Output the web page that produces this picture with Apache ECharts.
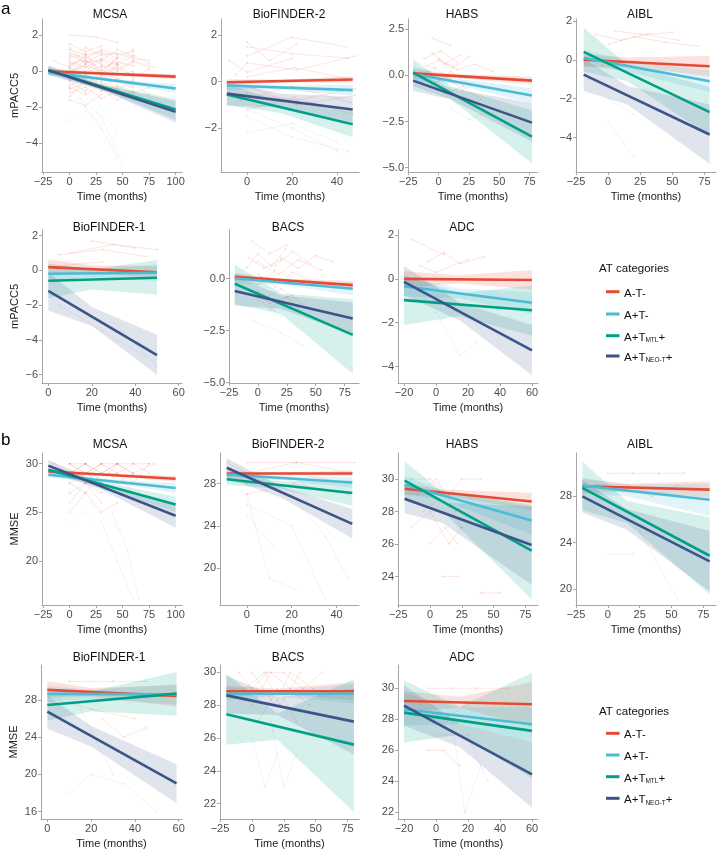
<!DOCTYPE html>
<html><head><meta charset="utf-8">
<script src="https://cdn.jsdelivr.net/npm/echarts@6.0.0/dist/echarts.min.js"></script>
<style>html,body{margin:0;padding:0;background:#fff}#c{width:717px;height:851px}</style>
</head><body><div id="c"></div>
<script>
// ---------- categories ----------
const groups = ['A-T-', 'A+T-', 'A+TMTL+', 'A+TNEO-T+'];
const cohorts = ['MCSA', 'BioFINDER-2', 'HABS', 'AIBL', 'BioFINDER-1', 'BACS', 'ADC'];
const outcomes = ['mPACC5', 'MMSE'];

// ---------- tick labels ----------
const xt_m25_100 = [-25, 0, 25, 50, 75, 100];
const xt_0_40 = [0, 20, 40];
const xt_m25_75 = [-25, 0, 25, 50, 75];
const xt_0_60 = [0, 20, 40, 60];
const xt_m20_60 = [-20, 0, 20, 40, 60];
const yt_pacc_MCSA = [-4, -2, 0, 2];
const yt_pacc_BF2 = [-2, 0, 2];
const yt_pacc_HABS = [-5, -2.5, 0, 2.5];
const yt_pacc_AIBL = [-4, -2, 0, 2];
const yt_pacc_BF1 = [-6, -4, -2, 0, 2];
const yt_pacc_BACS = [-5, -2.5, 0];
const yt_pacc_ADC = [-4, -2, 0, 2];
const yt_mmse_MCSA = [20, 25, 30];
const yt_mmse_BF2 = [20, 24, 28];
const yt_mmse_HABS = [24, 26, 28, 30];
const yt_mmse_AIBL = [20, 24, 28];
const yt_mmse_BF1 = [16, 20, 24, 28];
const yt_mmse_BACS = [22, 24, 26, 28, 30];
const yt_mmse_ADC = [22, 24, 26, 28, 30];

// ---------- fitted trajectories (time: start, mid, end; fit: start/end per group; lo/hi: 95% band at start/mid/end) ----------
// mPACC5
const pacc_MCSA_time = [-20, 30, 100];
const pacc_MCSA_fit = [[0.0, -0.30], [-0.05, -0.96], [0.05, -2.13], [0.05, -2.26]];
const pacc_MCSA_lo = [[-0.15, -0.19, -0.45], [-0.25, -0.50, -1.20], [-0.20, -1.00, -2.70], [-0.20, -1.05, -2.85]];
const pacc_MCSA_hi = [[0.15, -0.06, -0.15], [0.15, -0.36, -0.72], [0.30, -0.72, -1.55], [0.30, -0.77, -1.65]];

const pacc_BF2_time = [-9, 15, 47];
const pacc_BF2_fit = [[-0.03, 0.09], [-0.17, -0.37], [-0.56, -1.84], [-0.52, -1.20]];
const pacc_BF2_lo = [[-0.15, -0.05, -0.05], [-0.35, -0.35, -0.60], [-1.00, -1.35, -2.40], [-1.05, -1.10, -1.75]];
const pacc_BF2_hi = [[0.10, 0.09, 0.23], [0.00, -0.17, -0.14], [-0.10, -0.87, -1.28], [0.00, -0.52, -0.65]];

const pacc_HABS_time = [-21, 10, 77];
const pacc_HABS_fit = [[0.10, -0.29], [0.07, -1.10], [0.14, -3.32], [-0.29, -2.56]];
const pacc_HABS_lo = [[-0.15, -0.12, -0.50], [-0.35, -0.45, -1.50], [-0.60, -1.30, -4.76], [-0.85, -1.30, -3.60]];
const pacc_HABS_hi = [[0.35, 0.08, -0.08], [0.50, -0.15, -0.70], [0.85, -0.60, -1.90], [0.25, -0.72, -1.50]];

const pacc_AIBL_time = [-19, 15, 79];
const pacc_AIBL_fit = [[0.0, -0.33], [0.10, -1.10], [0.41, -2.69], [-0.76, -3.84]];
const pacc_AIBL_lo = [[-0.35, -0.35, -0.85], [-0.30, -0.60, -1.65], [-0.60, -1.10, -3.90], [-1.60, -2.30, -5.35]];
const pacc_AIBL_hi = [[0.30, 0.12, 0.20], [0.50, -0.05, -0.55], [1.65, -0.25, -1.40], [0.05, -1.35, -2.30]];

const pacc_BF1_time = [0, 20, 50];
const pacc_BF1_fit = [[0.19, -0.10], [-0.19, -0.13], [-0.59, -0.42], [-1.17, -4.88]];
const pacc_BF1_lo = [[-0.25, -0.15, -0.45], [-0.60, -0.40, -0.60], [-1.60, -1.10, -1.40], [-2.30, -3.20, -6.00]];
const pacc_BF1_hi = [[0.65, 0.30, 0.25], [0.25, 0.06, 0.35], [0.40, 0.05, 0.60], [-0.10, -2.10, -3.70]];

const pacc_BACS_time = [-20, 20, 82];
const pacc_BACS_fit = [[0.08, -0.32], [0.01, -0.49], [-0.25, -2.71], [-0.60, -1.92]];
const pacc_BACS_lo = [[-0.10, -0.15, -0.50], [-0.25, -0.29, -0.80], [-1.24, -1.70, -4.57], [-1.30, -1.45, -2.70]];
const pacc_BACS_hi = [[0.25, 0.00, -0.12], [0.25, -0.09, -0.20], [0.67, -0.72, -1.00], [0.10, -0.80, -1.15]];

const pacc_ADC_time = [-20, 15, 60];
const pacc_ADC_fit = [[0.0, -0.05], [-0.34, -1.09], [-0.97, -1.43], [-0.14, -3.26]];
const pacc_ADC_lo = [[-0.40, -0.20, -0.50], [-0.80, -0.90, -1.60], [-2.10, -1.70, -2.60], [-0.75, -1.90, -4.40]];
const pacc_ADC_hi = [[0.35, 0.16, 0.40], [0.10, -0.45, -0.60], [0.15, -0.65, -0.30], [0.60, -1.10, -2.10]];

// MMSE
const mmse_MCSA_time = [-20, 30, 100];
const mmse_MCSA_fit = [[29.20, 28.45], [28.87, 27.50], [29.38, 25.80], [29.80, 24.64]];
const mmse_MCSA_lo = [[29.00, 28.80, 28.15], [28.55, 28.15, 27.00], [28.90, 27.65, 25.00], [29.20, 27.35, 23.40]];
const mmse_MCSA_hi = [[29.45, 28.98, 28.75], [29.20, 28.45, 28.00], [29.85, 28.13, 26.60], [30.40, 27.95, 25.90]];

const mmse_BF2_time = [-9, 15, 47];
const mmse_BF2_fit = [[28.96, 28.96], [28.86, 28.10], [28.41, 27.11], [29.50, 24.18]];
const mmse_BF2_lo = [[28.75, 28.85, 28.70], [28.50, 28.35, 27.60], [27.90, 27.50, 25.90], [28.50, 26.70, 22.80]];
const mmse_BF2_hi = [[29.20, 29.07, 29.25], [29.20, 28.70, 28.60], [28.90, 28.20, 28.30], [30.40, 27.75, 25.60]];

const mmse_HABS_time = [-20, 10, 80];
const mmse_HABS_fit = [[29.40, 28.62], [29.65, 27.45], [29.90, 25.60], [28.78, 25.94]];
const mmse_HABS_lo = [[29.00, 29.00, 28.10], [29.10, 28.70, 26.60], [28.70, 28.00, 22.60], [27.90, 27.30, 23.50]];
const mmse_HABS_hi = [[29.75, 29.35, 29.15], [30.20, 29.30, 28.30], [31.10, 29.20, 28.40], [29.70, 28.55, 28.30]];

const mmse_AIBL_time = [-20, 15, 80];
const mmse_AIBL_fit = [[28.87, 28.58], [28.93, 27.71], [28.73, 22.86], [28.00, 22.37]];
const mmse_AIBL_lo = [[28.30, 28.40, 27.90], [28.20, 28.00, 26.30], [26.80, 25.70, 19.50], [26.60, 25.10, 19.80]];
const mmse_AIBL_hi = [[29.50, 29.10, 29.30], [29.60, 29.00, 29.10], [31.00, 27.60, 26.20], [29.40, 26.90, 25.00]];

const mmse_BF1_time = [0, 20, 59];
const mmse_BF1_fit = [[29.08, 28.43], [28.65, 28.60], [27.46, 28.68], [26.74, 19.04]];
const mmse_BF1_lo = [[28.20, 28.40, 27.30], [27.80, 28.10, 27.50], [25.80, 26.80, 26.30], [24.90, 23.00, 16.90]];
const mmse_BF1_hi = [[30.00, 29.30, 29.60], [29.50, 29.10, 29.70], [29.20, 28.90, 31.00], [28.50, 25.20, 21.10]];

const mmse_BACS_time = [-20, 20, 80];
const mmse_BACS_fit = [[28.85, 28.85], [28.70, 28.70], [27.45, 25.60], [28.60, 27.00]];
const mmse_BACS_lo = [[28.50, 28.70, 28.30], [28.30, 28.55, 28.10], [25.60, 25.90, 21.50], [27.50, 27.40, 25.00]];
const mmse_BACS_hi = [[29.20, 29.00, 29.40], [29.10, 28.85, 29.30], [29.90, 27.50, 29.60], [29.80, 28.50, 29.00]];

const mmse_ADC_time = [-20, 15, 60];
const mmse_ADC_fit = [[29.18, 28.97], [28.65, 27.68], [28.43, 27.25], [28.88, 24.45]];
const mmse_ADC_lo = [[28.50, 28.75, 27.50], [27.60, 27.70, 26.50], [26.50, 27.00, 24.20], [27.60, 26.20, 22.30]];
const mmse_ADC_hi = [[29.80, 29.45, 30.40], [29.70, 28.75, 28.80], [30.50, 28.80, 31.00], [30.20, 27.70, 26.50]];

// ---------- individual trajectories: [group, t, v, t, v, ...] ----------
const pacc_MCSA_subj = [
 [0,0,0.4,15,0.6,30,0.2,45,0.5,60,0.3],[0,0,1.2,15,0.9,30,1.1,45,0.7],[0,0,-0.5,15,-0.2,30,-0.8,45,-0.4,60,-0.9],
 [0,0,-1.2,15,-0.9,30,-1.5,45,-1.1],[0,0,0.8,15,1.3,30,0.9,45,1.0,60,0.7,75,0.6],[0,0,0.1,15,-0.1,30,0.3,45,-0.2,60,0.0],
 [0,0,-0.8,15,-0.4,30,-0.6,45,-1.0,60,-0.7,75,-1.3],[0,0,1.5,15,1.1,30,1.4],[0,0,-1.6,15,-1.9,30,-1.3],
 [0,0,0.6,15,0.2,30,0.7,45,0.3,60,0.9,75,0.4],[0,0,-0.2,15,0.4,30,-0.1,45,0.2,60,-0.4],[0,0,0.9,15,0.5,30,0.6,45,1.2,60,0.8],
 [0,0,-0.9,15,-1.3,30,-0.7,45,-1.2,60,-1.5],[0,0,0.3,15,0.8,30,0.4,45,0.0,60,0.5,75,0.2],[0,0,-0.4,15,-0.7,30,-0.2,45,-0.6],
 [0,0,1.0,15,0.7,30,1.2,45,0.9,60,1.1],[0,0,-1.0,15,-0.6,30,-1.1,45,-0.8,60,-1.2,75,-0.9],[0,0,0.2,15,-0.3,30,0.1,45,-0.5,60,-0.1],
 [0,0,2.0,25,1.9,45,1.6],[0,0,0.5,15,0.0,30,0.6,45,0.1,60,0.6,80,0.2],[0,0,-0.1,15,0.6,30,0.0,45,0.7],
 [0,0,1.3,15,0.4,30,1.0,45,0.4,60,1.2],[0,0,-0.6,15,-1.1,30,-0.3,45,-0.9,60,-0.5],[0,0,0.7,15,1.0,30,-0.2,45,0.8],
 [0,0,-1.4,15,-0.5,30,-1.0,45,-1.6,60,-1.1],[0,0,0.0,15,0.3,30,-0.5,45,0.4,60,-0.3,75,0.1],[0,-15,0.6,0,0.2,15,0.9],
 [1,0,-0.5,15,-1.2,30,-2.0,45,-3.5],[3,0,-1.0,15,-2.0,30,-3.2,45,-4.8],[2,10,-1.5,30,-2.5,50,-5.2],[1,0,-2.8,15,-2.2,30,-2.9]
];
const pacc_BF2_subj = [
 [0,0,1.5,20,1.2,45,1.0],[0,-5,0.3,0,0.8,22,0.5,48,1.1],[0,0,-0.5,22,-0.8,48,-0.3],[0,0,1.7,10,0.9,22,1.6],
 [0,0,-1.2,21,-0.7,47,-1.4],[0,0,0.2,21,0.6,46,0.1],[0,-8,0.9,0,0.4,20,1.0],[0,0,-0.2,22,-1.0,48,-0.6],
 [0,0,1.1,20,1.9,44,1.5],[0,-3,-0.8,20,-0.2,46,-0.9],
 [3,0,-1.5,20,-2.4,45,-3.0],[3,-5,-1.0,20,-2.0,40,-3.0],[2,0,-2.2,20,-1.8,40,-2.6]
];
const pacc_HABS_subj = [
 [0,-10,0.5,0,0.8,12,0.4,25,1.0],[0,-5,1.2,5,0.6,18,1.1],[0,0,-0.3,10,0.2,25,-0.5],[0,-15,0.0,-3,0.4,10,-0.2],
 [0,0,0.9,15,0.3,30,0.6,45,0.2],[0,5,-1.0,20,-0.6,35,-1.3],[0,-5,2.0,10,1.6],[0,-12,0.9,2,1.3,15,0.7],
 [0,-8,-0.6,6,-0.1,20,-0.8],[3,10,-1.8,25,-2.4,40,-2.0]
];
const pacc_AIBL_subj = [
 [0,-10,1.3,10,1.0,30,1.3,55,1.0],[0,0,0.8,20,1.2,45,0.9,70,0.7],[0,-5,-0.3,15,-0.6],[0,5,1.5,25,1.3,50,1.4],
 [3,-15,-1.0,0,-2.0,20,-2.8],[3,0,-3.2,20,-5.0]
];
const pacc_BF1_subj = [
 [0,10,1.0,30,1.5,50,1.2],[0,0,0.2,25,0.5],[0,20,1.7,40,1.3],[0,5,0.9,25,1.2,45,0.8],
 [3,5,-2.0,25,-3.5,45,-5.0],[3,30,-3.0,50,-5.5]
];
const pacc_BACS_subj = [
 [0,-10,0.5,0,1.2,12,0.6,24,1.4],[0,0,0.2,15,-0.4,30,0.3,45,-0.1],[0,-5,1.8,10,1.2,25,1.6],[0,5,-1.0,20,-0.5,38,-1.2],
 [0,0,0.8,18,0.2,35,0.9,55,0.4],[0,10,-1.5,25,-0.9,40,-1.7],[0,-15,0.0,0,-0.3,15,0.4],[0,20,1.0,35,0.5,50,1.1,65,0.8],
 [0,0,-0.6,10,-1.2,30,-0.8],[0,15,0.6,30,1.3,45,0.7],[0,-8,1.0,5,0.5,20,0.9],
 [3,-5,-2.0,20,-2.6,38,-3.2],[3,0,-1.0,20,-1.8]
];
const pacc_ADC_subj = [
 [0,-5,0.8,5,1.2,15,0.7,30,1.0],[0,-10,0.6,0,0.3,20,0.9],[1,0,-2.0,15,-1.3,30,-2.5],[3,0,-1.5,15,-3.5,25,-2.9],[0,-15,1.8,5,1.1]
];
const mmse_MCSA_subj = [
 [0,0,30,15,29,30,30,45,29,60,30,75,30],[0,0,29,15,30,30,29,45,30,60,29],[0,0,30,15,30,30,28,45,30,60,30,75,29],
 [0,0,28,15,29,30,28,45,27],[0,0,29,15,28,30,30,45,28,60,29],[0,0,27,15,28,30,27,45,28],
 [0,0,30,15,29,30,30,45,30,60,28,75,30],[0,0,28,15,27,30,29,45,29,60,27],[0,0,26,15,28,30,26],
 [0,0,25,15,27,30,25,45,26],[0,-15,30,0,29,15,30],[0,15,30,30,29,45,30,60,29,80,30],
 [1,0,24,15,25,30,23],[3,30,24,45,20,60,16],[3,40,25,55,21,65,16],[1,0,27,20,26,35,24,50,23]
];
const mmse_BF2_subj = [
 [0,0,30,22,30,48,30],[0,-9,30,0,29,22,30,47,29],[0,0,28,21,29,46,28],[0,0,27,21,28,45,27],[0,-5,29,10,28,22,29],
 [3,0,27,10,19,22,18],[3,0,26,20,24,35,17],[3,20,27,35,23,45,19],[2,0,25,12,22]
];
const mmse_HABS_subj = [
 [0,-15,30,0,30,15,29,25,30,40,30],[0,-10,29,5,30,20,28,35,29],[0,-5,28,10,29,25,27],[0,-15,27,0,28,15,26,25,27],
 [0,0,26,12,27,22,26],[0,10,24,22,24],[0,40,23,55,23]
];
const mmse_AIBL_subj = [
 [0,0,30,20,30,40,30,60,30],[0,-10,29,15,29,35,28,55,29],[3,0,23,20,23],[3,25,25,55,19]
];
const mmse_BF1_subj = [
 [0,10,30,30,30,45,30],[0,5,28,20,27,40,26],[3,10,18,20,20,35,19,50,16],[3,15,27,30,20],[0,25,26,35,24,45,25]
];
const mmse_BACS_subj = [
 [0,-10,30,0,29,12,30,25,30,40,29,55,30],[0,-5,29,10,30,22,28,38,30],[0,0,28,15,30,30,29,45,28],
 [0,0,30,18,28,30,30,48,29],[0,5,27,20,29,35,27],[3,0,26,10,23,20,25],[3,15,27,25,23,35,25]
];
const mmse_ADC_subj = [
 [0,-5,30,10,30,25,30,45,30],[0,-10,29,5,28,20,29],[0,-5,26,5,26,15,25],[3,10,28,18,22,28,25],[3,0,27,20,27,32,24]
];

// ---------- styling / layout (not data) ----------
const groupColors = ['#E64B35', '#4DBBD5', '#00A087', '#3C5488'];
const subjOpacity = [0.2, 0.1, 0.1, 0.1];
const FONT = 'Liberation Sans, Arial, Helvetica, sans-serif';
const axisGray = '#a6a6a6';
const labelGray = '#4d4d4d';

const panels = [
 {c:0,o:0,time:pacc_MCSA_time,fit:pacc_MCSA_fit,lo:pacc_MCSA_lo,hi:pacc_MCSA_hi,subj:pacc_MCSA_subj,xt:xt_m25_100,yt:yt_pacc_MCSA,dec:0,
  L:42,R:182,T:19,B:172,xr:[-26,106],yr:[-5.6,2.9],tx:110,ty:15,yname:true},
 {c:1,o:0,time:pacc_BF2_time,fit:pacc_BF2_fit,lo:pacc_BF2_lo,hi:pacc_BF2_hi,subj:pacc_BF2_subj,xt:xt_0_40,yt:yt_pacc_BF2,dec:0,
  L:221,R:359,T:19,B:172,xr:[-11.6,49.8],yr:[-3.89,2.69],tx:289,ty:15},
 {c:2,o:0,time:pacc_HABS_time,fit:pacc_HABS_fit,lo:pacc_HABS_lo,hi:pacc_HABS_hi,subj:pacc_HABS_subj,xt:xt_m25_75,yt:yt_pacc_HABS,dec:1,
  L:408,R:538,T:19,B:172,xr:[-25.2,82],yr:[-5.23,3.04],tx:462,ty:15},
 {c:3,o:0,time:pacc_AIBL_time,fit:pacc_AIBL_fit,lo:pacc_AIBL_lo,hi:pacc_AIBL_hi,subj:pacc_AIBL_subj,xt:xt_m25_75,yt:yt_pacc_AIBL,dec:0,
  L:576,R:716,T:19,B:172,xr:[-25,84],yr:[-5.77,2.1],tx:640,ty:15},
 {c:4,o:0,time:pacc_BF1_time,fit:pacc_BF1_fit,lo:pacc_BF1_lo,hi:pacc_BF1_hi,subj:pacc_BF1_subj,xt:xt_0_60,yt:yt_pacc_BF1,dec:0,
  L:42,R:182,T:230,B:383,xr:[-2.9,61.5],yr:[-6.48,2.33],tx:109,ty:228,yname:true},
 {c:5,o:0,time:pacc_BACS_time,fit:pacc_BACS_fit,lo:pacc_BACS_lo,hi:pacc_BACS_hi,subj:pacc_BACS_subj,xt:xt_m25_75,yt:yt_pacc_BACS,dec:1,
  L:229,R:359,T:230,B:383,xr:[-25,87.4],yr:[-5.02,2.33],tx:288,ty:228},
 {c:6,o:0,time:pacc_ADC_time,fit:pacc_ADC_fit,lo:pacc_ADC_lo,hi:pacc_ADC_hi,subj:pacc_ADC_subj,xt:xt_m20_60,yt:yt_pacc_ADC,dec:0,
  L:398,R:538,T:230,B:383,xr:[-23.75,63.75],yr:[-4.75,2.23],tx:462,ty:228},
 {c:0,o:1,time:mmse_MCSA_time,fit:mmse_MCSA_fit,lo:mmse_MCSA_lo,hi:mmse_MCSA_hi,subj:mmse_MCSA_subj,xt:xt_m25_100,yt:yt_mmse_MCSA,dec:0,
  L:42,R:182,T:453,B:605,xr:[-26,106],yr:[15.46,31.1],tx:110,ty:445,yname:true},
 {c:1,o:1,time:mmse_BF2_time,fit:mmse_BF2_fit,lo:mmse_BF2_lo,hi:mmse_BF2_hi,subj:mmse_BF2_subj,xt:xt_0_40,yt:yt_mmse_BF2,dec:0,
  L:220,R:359,T:453,B:605,xr:[-12,50],yr:[16.5,30.9],tx:288,ty:445},
 {c:2,o:1,time:mmse_HABS_time,fit:mmse_HABS_fit,lo:mmse_HABS_lo,hi:mmse_HABS_hi,subj:mmse_HABS_subj,xt:xt_m25_75,yt:yt_mmse_HABS,dec:0,
  L:398,R:538,T:453,B:605,xr:[-25.2,85],yr:[22.25,31.6],tx:462,ty:445},
 {c:3,o:1,time:mmse_AIBL_time,fit:mmse_AIBL_fit,lo:mmse_AIBL_lo,hi:mmse_AIBL_hi,subj:mmse_AIBL_subj,xt:xt_m25_75,yt:yt_mmse_AIBL,dec:0,
  L:576,R:716,T:453,B:605,xr:[-25,85],yr:[18.6,31.75],tx:640,ty:445},
 {c:4,o:1,time:mmse_BF1_time,fit:mmse_BF1_fit,lo:mmse_BF1_lo,hi:mmse_BF1_hi,subj:mmse_BF1_subj,xt:xt_0_60,yt:yt_mmse_BF1,dec:0,
  L:41,R:182,T:665,B:819,xr:[-2.9,61.5],yr:[15.2,31.76],tx:109,ty:658,yname:true},
 {c:5,o:1,time:mmse_BACS_time,fit:mmse_BACS_fit,lo:mmse_BACS_lo,hi:mmse_BACS_hi,subj:mmse_BACS_subj,xt:xt_m25_75,yt:yt_mmse_BACS,dec:0,
  L:220,R:359,T:665,B:819,xr:[-25,84],yr:[21.07,30.45],tx:288,ty:658},
 {c:6,o:1,time:mmse_ADC_time,fit:mmse_ADC_fit,lo:mmse_ADC_lo,hi:mmse_ADC_hi,subj:mmse_ADC_subj,xt:xt_m20_60,yt:yt_mmse_ADC,dec:0,
  L:398,R:538,T:665,B:819,xr:[-23.75,63.75],yr:[21.57,31.5],tx:462,ty:658}
];

function fmt(dec) {
  return function (v) {
    const s = Math.abs(v).toFixed(dec);
    return (v < 0 ? '\u2212' : '') + s;
  };
}

const grid = [], xAxis = [], yAxis = [], series = [], graphic = [];

panels.forEach(function (p, i) {
  grid.push({left: p.L, top: p.T, width: p.R - p.L, height: p.B - p.T, containLabel: false, outerBoundsMode: 'none'});
  xAxis.push({
    type: 'value', gridIndex: i, min: p.xr[0], max: p.xr[1],
    axisLine: {show: true, onZero: false, lineStyle: {color: axisGray, width: 1}},
    axisTick: {show: true, length: 3, customValues: p.xt, lineStyle: {color: axisGray}},
    axisLabel: {customValues: p.xt, color: labelGray, fontSize: 11, margin: 4, fontFamily: FONT, formatter: fmt(0)},
    splitLine: {show: false},
    name: 'Time (months)', nameLocation: 'middle', nameGap: 19,
    nameTextStyle: {color: '#1a1a1a', fontSize: 11, fontFamily: FONT}
  });
  yAxis.push({
    type: 'value', gridIndex: i, min: p.yr[0], max: p.yr[1],
    axisLine: {show: true, onZero: false, lineStyle: {color: axisGray, width: 1}},
    axisTick: {show: true, length: 3, customValues: p.yt, lineStyle: {color: axisGray}},
    axisLabel: {customValues: p.yt, color: labelGray, fontSize: 11, margin: 4, fontFamily: FONT, formatter: fmt(p.dec)},
    splitLine: {show: false},
    name: p.yname ? outcomes[p.o] : '', nameLocation: 'middle', nameGap: 22,
    nameTextStyle: {color: '#1a1a1a', fontSize: 11, fontFamily: FONT}
  });
  // individual trajectories (lines + observation dots)
  series.push({
    type: 'lines', coordinateSystem: 'cartesian2d', xAxisIndex: i, yAxisIndex: i, polyline: true, silent: true, z: 1,
    lineStyle: {width: 0.7},
    data: p.subj.map(function (s) {
      const coords = [];
      for (let k = 1; k + 1 < s.length; k += 2) coords.push([s[k], s[k + 1]]);
      return {coords: coords, lineStyle: {color: groupColors[s[0]], opacity: subjOpacity[s[0]]}};
    })
  });
  const dots = [];
  p.subj.forEach(function (s) {
    for (let k = 1; k + 1 < s.length; k += 2)
      dots.push({value: [s[k], s[k + 1]], itemStyle: {color: groupColors[s[0]], opacity: subjOpacity[s[0]] * 0.8}});
  });
  series.push({type: 'scatter', xAxisIndex: i, yAxisIndex: i, silent: true, z: 1, symbolSize: 2, data: dots});
  // confidence bands
  groups.forEach(function (g, gi) {
    const t = p.time, lo = p.lo[gi], hi = p.hi[gi];
    series.push({
      type: 'custom', xAxisIndex: i, yAxisIndex: i, silent: true, z: 2, clip: true,
      data: [[t[0], lo[0]]], encode: {x: 0, y: 1},
      renderItem: function (params, api) {
        const pts = [];
        for (let k = 0; k < t.length; k++) pts.push(api.coord([t[k], hi[k]]));
        for (let k = t.length - 1; k >= 0; k--) pts.push(api.coord([t[k], lo[k]]));
        return {type: 'polygon', shape: {points: pts}, style: {fill: groupColors[gi], opacity: 0.16}};
      }
    });
  });
  // fitted lines
  groups.forEach(function (g, gi) {
    series.push({
      name: g, type: 'line', xAxisIndex: i, yAxisIndex: i, z: 3, silent: true,
      showSymbol: false, symbol: 'none', clip: true,
      lineStyle: {color: groupColors[gi], width: 2.6},
      data: [[p.time[0], p.fit[gi][0]], [p.time[p.time.length - 1], p.fit[gi][1]]]
    });
  });
  graphic.push({type: 'text', x: p.tx, y: p.ty,
    style: {text: cohorts[p.c], fill: '#111', font: '12px ' + FONT, align: 'center', verticalAlign: 'middle',
            textAlign: 'center', textVerticalAlign: 'middle'}});
});

// panel letters
graphic.push({type: 'text', x: 1, y: 9, style: {text: 'a', fill: '#000', font: '17px ' + FONT, align: 'left', verticalAlign: 'middle', textVerticalAlign: 'middle'}});
graphic.push({type: 'text', x: 1, y: 440, style: {text: 'b', fill: '#000', font: '17px ' + FONT, align: 'left', verticalAlign: 'middle', textVerticalAlign: 'middle'}});

// legends
const legendLabels = [
  '{m|A-T-}', '{m|A+T-}', '{m|A+T}{s|MTL}{m|+}', '{m|A+T}{s|NEO-T}{m|+}'
];
function addLegend(titleY, itemYs) {
  graphic.push({type: 'text', x: 599, y: titleY,
    style: {text: 'AT categories', fill: '#111', font: '11.5px ' + FONT, align: 'left', verticalAlign: 'middle', textVerticalAlign: 'middle'}});
  itemYs.forEach(function (y, gi) {
    graphic.push({type: 'line', shape: {x1: 606, y1: y, x2: 619.5, y2: y}, style: {stroke: groupColors[gi], lineWidth: 3}});
    graphic.push({type: 'text', x: 624, y: y + 1,
      style: {text: legendLabels[gi], align: 'left', verticalAlign: 'middle', textVerticalAlign: 'middle',
        rich: {
          m: {fontSize: 11.5, fontFamily: FONT, fill: '#111', color: '#111', lineHeight: 14, verticalAlign: 'bottom'},
          s: {fontSize: 6.5, fontFamily: FONT, fill: '#111', color: '#111', lineHeight: 6, verticalAlign: 'bottom'}
        }}});
  });
}
addLegend(269, [291.7, 314, 335.7, 356]);
addLegend(711.7, [733.3, 755, 776.7, 798.3]);

const chart = echarts.init(document.getElementById('c'), null, {renderer: 'canvas', width: 717, height: 851});
chart.setOption({
  animation: false,
  backgroundColor: '#ffffff',
  textStyle: {fontFamily: FONT},
  grid: grid, xAxis: xAxis, yAxis: yAxis, series: series, graphic: graphic
});
</script>
</body></html>
